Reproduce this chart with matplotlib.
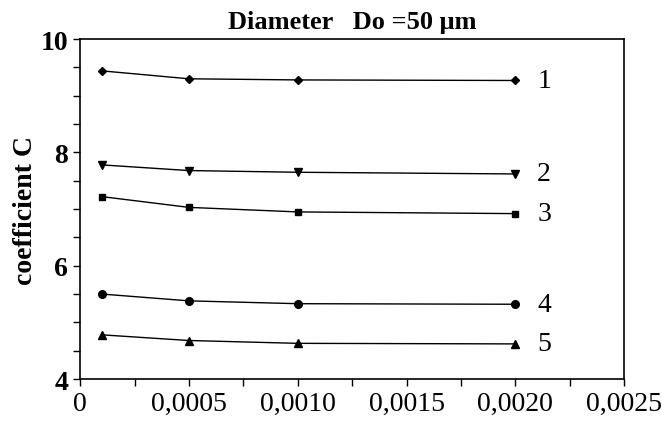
import matplotlib.pyplot as plt
from matplotlib.ticker import MultipleLocator, FuncFormatter

plt.rcParams['font.family'] = ['Liberation Serif', 'DejaVu Serif']

# --- data ---
x = [0.0001, 0.0005, 0.0010, 0.0020]
c1 = [9.44, 9.30, 9.28, 9.27]
c2 = [7.78, 7.68, 7.65, 7.62]
c3 = [7.22, 7.03, 6.95, 6.92]
c4 = [5.50, 5.38, 5.33, 5.32]
c5 = [4.78, 4.68, 4.63, 4.62]
curves = [c1, c2, c3, c4, c5]
names = ["1", "2", "3", "4", "5"]
markers = ['D', 'v', 's', 'o', '^']
msizes = [4.5, 6, 5, 5.5, 6]

fig = plt.figure(figsize=(6.62, 4.27), dpi=100)
ax = fig.add_axes([0.121, 0.110, 0.822, 0.796])

for c, n, m, ms in zip(curves, names, markers, msizes):
    ax.plot(x, c, color='black', lw=1.0, marker=m, markersize=ms)
    ax.text(x[-1] + 0.0001, c[-1], n, fontsize=20, va='center', ha='left')

ax.set_xlim(0, 0.0025)
ax.set_ylim(4, 10)
ax.xaxis.set_major_locator(MultipleLocator(0.0005))
ax.xaxis.set_minor_locator(MultipleLocator(0.00025))
ax.yaxis.set_major_locator(MultipleLocator(2))
ax.yaxis.set_minor_locator(MultipleLocator(0.5))


def fmt_x(v, pos):
    if abs(v) < 1e-12:
        return "0"
    return f"{v:.4f}".replace(".", ",")


ax.xaxis.set_major_formatter(FuncFormatter(fmt_x))
ax.tick_params(which='both', direction='out', width=1)
ax.tick_params(which='major', length=5, labelsize=20)
ax.tick_params(which='minor', length=5)
for t in ax.get_yticklabels():
    t.set_fontweight('bold')
    t.set_fontsize(20)
for s in ax.spines.values():
    s.set_linewidth(1.2)

ax.set_ylabel("coefficient C", fontsize=20, fontweight='bold', labelpad=2)
ax.set_title("Diameter   Do =50 \u03bcm", fontsize=19, fontweight='bold', pad=8)

fig.savefig("out.png", dpi=100)
